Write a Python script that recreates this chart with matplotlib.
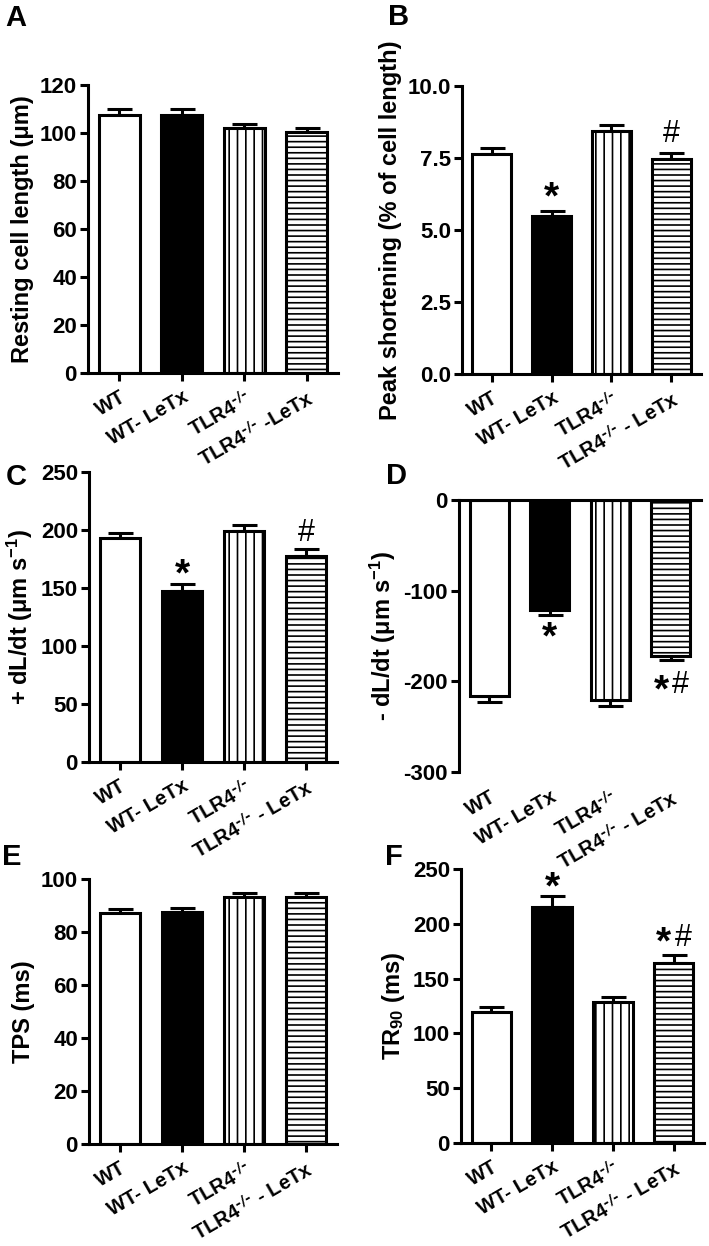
import matplotlib
matplotlib.use('Agg')
import matplotlib.pyplot as plt
import numpy as np

plt.rcParams['font.family'] = ['Liberation Sans', 'DejaVu Sans']
plt.rcParams['font.weight'] = 'bold'
plt.rcParams['mathtext.default'] = 'regular'
plt.rcParams['hatch.linewidth'] = 1.2

# group labels
labels = ['WT', 'WT- LeTx', 'TLR4$^{\\text{-/-}}$', 'TLR4$^{\\text{-/-}}$ - LeTx']
labels_a = ['WT', 'WT- LeTx', 'TLR4$^{\\text{-/-}}$', 'TLR4$^{\\text{-/-}}$ -LeTx']

# A: resting cell length
rest_len = [107.5, 107.5, 102.0, 100.3]
rest_err = [2.3, 2.7, 1.8, 1.7]
# B: peak shortening
peak = [7.64, 5.50, 8.44, 7.47]
peak_err = [0.20, 0.17, 0.20, 0.20]
# C: +dL/dt
plus_dl = [193.0, 147.5, 199.0, 177.5]
plus_err = [4.5, 6.0, 5.0, 6.5]
# D: -dL/dt
minus_dl = [-216.0, -121.0, -221.0, -172.0]
minus_err = [7.0, 6.0, 6.0, 5.0]
# E: TPS
tps = [87.2, 87.5, 93.3, 93.3]
tps_err = [1.5, 1.5, 1.4, 1.4]
# F: TR90
tr90 = [119.5, 215.0, 128.6, 164.0]
tr90_err = [4.5, 10.0, 4.5, 7.5]

faces = ['white', 'black', 'white', 'white']
hatches = ['', '', '||', '---']
LW = 2.2

fig = plt.figure(figsize=(7.09, 12.46), dpi=100)


def panel(rect, vals, errs, ylim, yticks, ylabel, xlabels, letter, letter_xy,
          marks=None, negative=False, yfmt='{:g}'):
    ax = fig.add_axes(rect)
    x = np.arange(len(vals))
    if negative:
        yerr = [errs, [0] * len(errs)]
    else:
        yerr = [[0] * len(errs), errs]
    ax.errorbar(x, vals, yerr=yerr, fmt='none', ecolor='black',
                elinewidth=LW, capsize=9, capthick=LW, zorder=1)
    ax.bar(x, vals, width=0.65, color=faces, edgecolor='black',
           linewidth=LW, hatch=hatches, zorder=2)
    ax.set_xlim(-0.5, 3.5)
    ax.set_ylim(*ylim)
    ax.set_yticks(yticks)
    ax.set_yticklabels([yfmt.format(t) for t in yticks])
    ax.set_xticks(x)
    ax.set_xticklabels(xlabels, rotation=30, ha='right', rotation_mode='anchor')
    for s in ['top', 'right']:
        ax.spines[s].set_visible(False)
    for s in ['left', 'bottom']:
        ax.spines[s].set_linewidth(LW)
    ax.tick_params(axis='y', width=LW, length=6, labelsize=16, pad=2)
    ax.tick_params(axis='x', width=LW, length=6, labelsize=14.5, pad=4)
    if negative:
        ax.spines['bottom'].set_visible(False)
        ax.axhline(0, color='black', lw=LW, zorder=3, clip_on=False)
        ax.tick_params(axis='x', length=0, pad=11)
    ax.set_ylabel(ylabel, fontsize=17, fontweight='bold', labelpad=4)
    fig.text(letter_xy[0] / 709, 1 - letter_xy[1] / 1246, letter,
             fontsize=21, fontweight='bold', ha='left', va='top')
    if marks:
        for i, txt, off in marks:
            tip = vals[i] - errs[i] if negative else vals[i] + errs[i]
            if txt == '#':
                ax.annotate('#', (x[i], tip), xytext=(0, off), textcoords='offset points',
                            ha='center', va='center', fontsize=22, fontweight='normal')
            elif txt == '*':
                ax.annotate('*', (x[i], tip), xytext=(0, off - 4), textcoords='offset points',
                            ha='center', va='center', fontsize=28, fontweight='bold')
            else:
                ax.annotate('*', (x[i], tip), xytext=(-7, off - 4), textcoords='offset points',
                            ha='center', va='center', fontsize=28, fontweight='bold')
                ax.annotate('#', (x[i], tip), xytext=(7, off), textcoords='offset points',
                            ha='center', va='center', fontsize=22, fontweight='normal')
    return ax


panel([88 / 709, 1 - 373 / 1246, 250 / 709, 288 / 1246], rest_len, rest_err,
      (0, 120), [0, 20, 40, 60, 80, 100, 120], 'Resting cell length (μm)',
      labels_a, 'A', (5, 4))

panel([462 / 709, 1 - 374 / 1246, 239 / 709, 288 / 1246], peak, peak_err,
      (0, 10), [0, 2.5, 5.0, 7.5, 10.0], 'Peak shortening (% of cell length)',
      labels, 'B', (388, 3), yfmt='{:.1f}',
      marks=[(1, '*', 13), (3, '#', 14)])

panel([89 / 709, 1 - 762 / 1246, 248 / 709, 290 / 1246], plus_dl, plus_err,
      (0, 250), [0, 50, 100, 150, 200, 250], '+ dL/dt (μm s$^{-1}$)',
      labels, 'C', (6, 463),
      marks=[(1, '*', 10), (3, '#', 11)])

panel([459 / 709, 1 - 772 / 1246, 242 / 709, 272 / 1246], minus_dl, minus_err,
      (-300, 0), [-300, -200, -100, 0], '- dL/dt (μm s$^{-1}$)',
      labels, 'D', (386, 462), negative=True,
      marks=[(1, '*', -13), (3, '*#', -18)])

panel([89 / 709, 1 - 1144 / 1246, 248 / 709, 265 / 1246], tps, tps_err,
      (0, 100), [0, 20, 40, 60, 80, 100], 'TPS (ms)',
      labels, 'E', (2, 843))

panel([461 / 709, 1 - 1143 / 1246, 243 / 709, 274 / 1246], tr90, tr90_err,
      (0, 250), [0, 50, 100, 150, 200, 250], 'TR$_{90}$ (ms)',
      labels, 'F', (385, 843),
      marks=[(1, '*', 10), (3, '*#', 12)])

fig.savefig('out.png', dpi=100)
